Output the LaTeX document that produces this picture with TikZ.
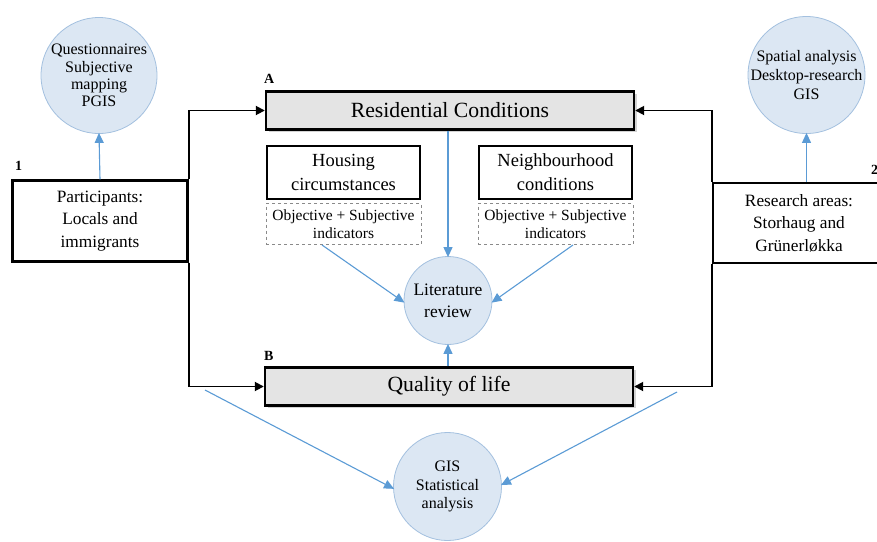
\documentclass[tikz,border=0pt]{standalone}
\usepackage{fontspec}
\setmainfont{Liberation Serif}
\usetikzlibrary{arrows.meta,shadows}

\definecolor{bubblefill}{HTML}{DCE7F3}
\definecolor{bubbleedge}{HTML}{A3C0DF}
\definecolor{linkblue}{HTML}{5B9BD5}
\definecolor{headgray}{HTML}{E4E4E4}
\definecolor{dashgray}{HTML}{8A8A8A}

\tikzset{
  bubble/.style={circle, fill=bubblefill, draw=bubbleedge, line width=0.8pt,
    align=center, inner sep=-4pt},
  headbox/.style={draw, line width=2.4pt, fill=headgray, align=center,
    minimum width=368pt, minimum height=38pt,
    drop shadow={opacity=0.35, shadow xshift=2.5pt, shadow yshift=-2.5pt},
    font=\fontsize{21.7}{26}\selectfont},
  subbox/.style={draw, line width=2.2pt, fill=white, align=center,
    minimum width=153pt, minimum height=53pt, inner sep=1pt,
    font=\fontsize{18.5}{24}\selectfont},
  indbox/.style={draw=dashgray, dashed, line width=0.7pt, align=center,
    minimum width=155pt, minimum height=41pt, inner sep=1pt,
    font=\fontsize{15.5}{18}\selectfont},
  sidebox/.style={draw, line width=2.4pt, fill=white, align=center,
    font=\fontsize{17.3}{22.5}\selectfont},
  tag/.style={font=\bfseries\fontsize{14}{16}\selectfont, inner sep=0pt},
  conn/.style={line width=1.8pt, -{Triangle[length=9pt,width=9pt]}},
  feed/.style={draw=linkblue, line width=1.1pt,
    -{Triangle[length=10pt,width=9pt]}, shorten >=-1pt},
}

\begin{document}
\begin{tikzpicture}[x=1pt,y=-1pt]
\useasboundingbox (0,0) rectangle (877,541);
\clip (0,0) rectangle (877,541);

% central headings
\node[headbox] (res) at (450,110.5) {Residential Conditions};
\node[headbox] (qol) at (449,386.5) {Quality of life};
\node[tag, anchor=south west] (tagA) at (264,84) {A};
\node[tag, anchor=south west] (tagB) at (264,361) {B};

% sub-themes and their indicators
\node[subbox] (house) at (343.5,172.5) {Housing\\circumstances};
\node[indbox] (hind) at (343.5,224) {Objective + Subjective\\indicators};
\node[subbox] (neigh) at (555.5,172.5) {Neighbourhood\\conditions};
\node[indbox] (nind) at (555.5,224) {Objective + Subjective\\indicators};

% method bubbles
\node[bubble, minimum size=88pt, font=\fontsize{17.5}{22}\selectfont]
  (lit) at (448,300.5) {Literature\\review};
\node[bubble, minimum size=108pt, font=\fontsize{16}{18.5}\selectfont]
  (gis) at (447.5,486.5) {GIS\\Statistical\\analysis};
\node[bubble, minimum size=116pt, font=\fontsize{16}{17.3}\selectfont]
  (quest) at (99,75.5) {Questionnaires\\Subjective\\mapping\\PGIS};
\node[bubble, minimum size=117pt, font=\fontsize{16}{19}\selectfont]
  (spat) at (806.5,75) {Spatial analysis\\Desktop-research\\GIS};

% study groups and areas
\node[sidebox, minimum width=175pt, minimum height=81pt] (part) at (100,221)
  {Participants:\\Locals and\\immigrants};
\node[sidebox, minimum width=172pt, minimum height=80pt] (area) at (799,223)
  {Research areas:\\Storhaug and\\Grünerløkka};
\node[tag, anchor=south west] (tag1) at (15,171) {1};
\node[tag, anchor=south west] (tag2) at (871,175) {2};

% black links into the headings
\draw[conn] (part.north east) |- (res.west);
\draw[conn] (part.south east) |- (qol.west);
\draw[conn] (area.north west) |- (res.east);
\draw[conn] (area.south west) |- (qol.east);

% blue feeds
\coordinate (hfoot) at (322,245);
\coordinate (nfoot) at (573,245);
\coordinate (lfork) at (205,390);
\coordinate (rfork) at (677,392);
\draw[feed] (part.north) -- (quest.south);
\draw[feed] (area.north -| spat.south) -- (spat.south);
\draw[feed] (res.south -| lit.north) -- (lit.north);
\draw[feed] (qol.north -| lit.south) -- (lit.south);
\draw[feed] (hfoot) -- (lit.182);
\draw[feed] (nfoot) -- (lit.358);
\draw[feed] (lfork) -- (gis.182);
\draw[feed] (rfork) -- (gis.2);
\end{tikzpicture}
\end{document}
